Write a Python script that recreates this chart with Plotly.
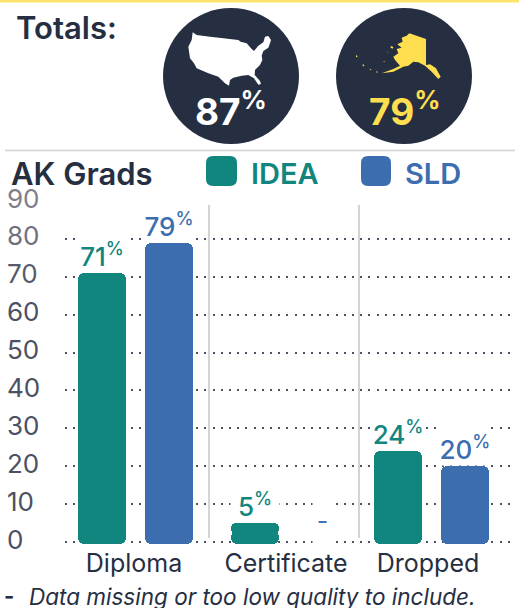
import plotly.graph_objects as go

W, H = 519, 608
FONT = "Inter, 'Noto Sans', sans-serif"
NAVY, TEAL, BLUE, YELLOW = "#262e42", "#11867f", "#3c6eaf", "#ffdf4f"

# --- data ---
categories = ["Diploma", "Certificate", "Dropped"]
idea_values = [71, 5, 24]
sld_values = [79, None, 20]
y_ticks = [0, 10, 20, 30, 40, 50, 60, 70, 80, 90]
y_tick_colors = ["#4b5062"] * 7 + ["#565a6c", "#6f6f7c", "#807e8a"]
totals = [("87", "#ffffff"), ("79", YELLOW)]

# --- layout constants (pixels of the page) ---
idea_x = [102, 255, 398]
sld_x = [169, 320, 465]
label_x = [134, 286, 428]
BAR_W = 48
BASE = -0.5
Y0_PX, Y90_PX = 542, 201
UNIT = (Y0_PX - Y90_PX) / 90
Y_MIN = -1
BOTTOM_PX = Y0_PX - Y_MIN * UNIT


def px(x, y):
    return x / W, 1 - y / H


def poly(points, ox, oy, scale=1 / 3):
    out = []
    for i, (a, b) in enumerate(points):
        x, y = px(ox + a * scale, oy + b * scale)
        out.append(f"{'M' if i == 0 else 'L'}{x:.5f},{y:.5f}")
    return "".join(out) + "Z"


def rounded(x0, y0, x1, y1, r):
    p = [(x0 + r, y0), (x1 - r, y0), (x1, y0), (x1, y0 + r), (x1, y1 - r), (x1, y1), (x1 - r, y1), (x0 + r, y1), (x0, y1), (x0, y1 - r), (x0, y0 + r), (x0, y0), (x0 + r, y0)]
    c = [f"{v[0] / W:.5f},{1 - v[1] / H:.5f}" for v in p]
    return f"M{c[0]}L{c[1]}Q{c[2]} {c[3]}L{c[4]}Q{c[5]} {c[6]}L{c[7]}Q{c[8]} {c[9]}L{c[10]}Q{c[11]} {c[12]}Z"


us_outline = [(38,22),(50,30),(90,35),(130,40),(175,45),(182,50),(200,55),(215,72),(222,78),(235,62),(250,52),(255,35),(265,33),(273,45),(270,55),(265,68),(250,78),(245,92),(247,105),(240,120),(225,135),(224,150),(240,168),(243,177),(235,179),(222,160),(205,150),(185,152),(160,158),(150,165),(147,182),(135,175),(115,155),(100,150),(85,145),(50,130),(42,115),(30,100),(25,65),(35,45)]
ak_outline = [(178,25),(228,42),(228,120),(240,118),(258,130),(272,155),(265,162),(245,140),(225,122),(205,112),(190,110),(175,122),(160,125),(130,140),(95,145),(130,132),(150,122),(135,105),(130,95),(145,85),(140,72),(155,68),(142,58),(158,50),(155,38),(170,32)]
ak_islands = [[(122,63),(130,66),(128,71),(122,68)], [(18,91),(22,92),(22,97),(18,96)], [(38,118),(43,120),(42,124),(38,122)], [(58,131),(64,133),(62,136)], [(78,139),(85,141),(80,143)], [(100,108),(104,108),(103,112)], [(112,80),(115,80),(114,83)]]

fig = go.Figure()

# bars: each one is two overlapping halves so both ends get rounded corners
for name, xs, vals, col in [("IDEA", idea_x, idea_values, TEAL), ("SLD", sld_x, sld_values, BLUE)]:
    px_x = [x for x, v in zip(xs, vals) if v is not None]
    v = [a for a in vals if a is not None]
    fig.add_bar(name=name, x=px_x, y=[a * 0.6 for a in v], base=[a * 0.4 for a in v], width=BAR_W,
                marker=dict(color=col, line=dict(width=0)), showlegend=False, cliponaxis=False)
    fig.add_bar(name=name, x=px_x, y=[-(a * 0.6 - BASE) for a in v], base=[a * 0.6 for a in v], width=BAR_W,
                marker=dict(color=col, line=dict(width=0)), showlegend=False, cliponaxis=False)

ann = []


def text(x, y, s, size, color, anchor="left", style="normal", weight=400):
    ax, ay = px(x, y)
    ann.append(dict(x=ax, y=ay, xref="paper", yref="paper", xanchor=anchor, yanchor="middle", text=s, showarrow=False,
                    font=dict(family=FONT, size=size, color=color, style=style, weight=weight)))


text(14, 27, "Totals:", 31, NAVY, weight=600)
text(9, 173, "AK Grads", 31, NAVY, weight=600)
text(249, 173, "IDEA", 29, TEAL, weight=600)
text(403, 173, "SLD", 29, BLUE, weight=600)
text(2, 596, "-", 22, NAVY, weight=700)
text(27, 596, "Data missing or too low quality to include.", 22.5, NAVY, style="italic")

for (val, col), cx in zip(totals, [231, 404]):
    text(cx, 109, f"{val}<sup>%</sup>", 37, col, anchor="center", weight=700)

for t, c in zip(y_ticks, y_tick_colors):
    ann.append(dict(x=px(5, 0)[0], xref="paper", y=t, yref="y", xanchor="left", yanchor="middle", text=str(t), showarrow=False,
                    yshift=3, font=dict(family=FONT, size=26, color=c)))

# value labels: white box breaks the dotted grid above each bar
for xs, vals, col in [(idea_x, idea_values, TEAL), (sld_x, sld_values, BLUE)]:
    for x, v in zip(xs, vals):
        if v is None:
            ann.append(dict(x=x + 2, y=0, xref="x", yref="y", yanchor="bottom", text="–", showarrow=False, width=17, height=43,
                            yshift=-2, valign="middle", bgcolor="#ffffff", font=dict(family=FONT, size=16, color=col, weight=700)))
        else:
            ann.append(dict(x=x, y=v, xref="x", yref="y", yanchor="bottom", text=f"{v}<sup>%</sup>", showarrow=False, width=BAR_W, height=41,
                            valign="bottom", bgcolor="#ffffff", borderpad=0, font=dict(family=FONT, size=26, color=col, weight=500)))

shapes = []
shapes.append(dict(type="rect", xref="paper", yref="paper", x0=0, x1=1, y0=1, y1=1 - 2.5 / H, fillcolor="#ffe36a", line_width=0))
x0, y0 = px(5, 150.5)
x1, _ = px(515, 150)
shapes.append(dict(type="line", xref="paper", yref="paper", x0=x0, x1=x1, y0=y0, y1=y0, line=dict(color="#d2d2d2", width=1.5)))
for cx in (231, 404):
    a, b = px(cx - 68, 8 + 0)
    c1 = dict(type="circle", xref="paper", yref="paper", x0=(cx - 68) / W, x1=(cx + 68) / W, y0=1 - 144 / H, y1=1 - 8 / H, fillcolor=NAVY, line_width=0)
    shapes.append(c1)
shapes.append(dict(type="path", xref="paper", yref="paper", path=poly(us_outline, 180, 25), fillcolor="#ffffff", line_width=0))
ak_path = poly(ak_outline, 350, 25) + "".join(poly(i, 350, 25) for i in ak_islands)
shapes.append(dict(type="path", xref="paper", yref="paper", path=ak_path, fillcolor=YELLOW, line_width=0))
shapes.append(dict(type="path", xref="paper", yref="paper", path=rounded(206, 156, 237, 186, 7), fillcolor=TEAL, line_width=0))
shapes.append(dict(type="path", xref="paper", yref="paper", path=rounded(361, 156, 391, 186, 7), fillcolor=BLUE, line_width=0))
for sx in (209, 359):
    shapes.append(dict(type="line", xref="x", yref="paper", x0=sx, x1=sx, y0=1 - 538 / H, y1=1 - 205 / H, line=dict(color="#c6c6c6", width=1.5)))

fig.update_layout(
    width=W, height=H, margin=dict(l=0, r=0, t=0, b=0), autosize=False,
    paper_bgcolor="#ffffff", plot_bgcolor="#ffffff", barmode="overlay", bargap=0,
    barcornerradius=6, showlegend=False, annotations=ann, shapes=shapes,
    xaxis=dict(domain=[65 / W, 515 / W], range=[65, 515], tickmode="array", tickvals=label_x, ticktext=categories,
               showgrid=False, zeroline=False, showline=False, ticks="", ticklabelstandoff=0,
               tickfont=dict(family=FONT, size=25, color=NAVY)),
    yaxis=dict(domain=[1 - BOTTOM_PX / H, 1 - Y90_PX / H], range=[Y_MIN, 90], tickmode="array", tickvals=y_ticks,
               showticklabels=False, showgrid=True, griddash="2px,6.2px", gridcolor="#4b5062", gridwidth=2,
               zeroline=False, showline=False, ticks=""),
)

fig.write_html("out.html", config={"displayModeBar": False}, post_script="document.body.style.margin='0';document.body.style.overflow='hidden';")
